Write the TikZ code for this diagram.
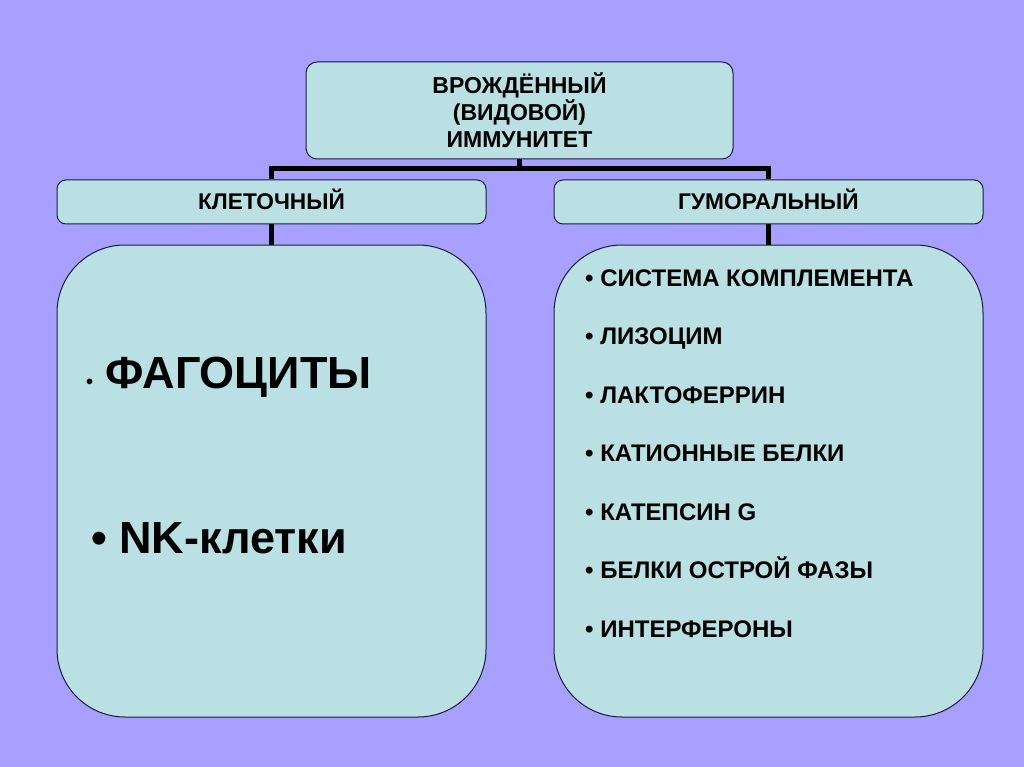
\documentclass[tikz,border=0pt]{standalone}
\usepackage{fontspec}
\setmainfont{Liberation Sans}
\definecolor{bg}{RGB}{168,160,255}
\definecolor{boxfill}{RGB}{186,224,228}
\definecolor{boxline}{RGB}{25,25,60}
\tikzset{
  box/.style={draw=boxline, fill=boxfill, line width=1pt, inner sep=0pt},
  head/.style={box, rounded corners=11pt, minimum width=427pt, minimum height=97pt,
    align=center, font=\bfseries\fontsize{23}{27}\selectfont},
  branch/.style={box, rounded corners=9pt, minimum width=429pt, minimum height=44pt,
    text height=16pt, text depth=0pt, font=\bfseries\fontsize{22.7}{24}\selectfont},
  big/.style={box, rounded corners=68pt, minimum width=429pt, minimum height=472pt},
  conn/.style={line width=5.5pt, draw=black, line join=miter},
  item/.style={anchor=base west, inner sep=0pt, font=\bfseries\fontsize{24}{26}\selectfont},
  bigitem/.style={anchor=base west, inner sep=0pt, font=\bfseries\fontsize{45}{50}\selectfont},
}
\begin{document}
\begin{tikzpicture}[x=1pt,y=-1pt]
\fill[bg] (0,0) rectangle (1024,767);
\useasboundingbox (0,0) rectangle (1024,767);

\node[head] (top) at (519.5,110.5) {ВРОЖДЁННЫЙ\\(ВИДОВОЙ)\\ИММУНИТЕТ};
\node[branch] (kl) at (271.5,202) {КЛЕТОЧНЫЙ};
\node[branch] (gum) at (768.5,202) {ГУМОРАЛЬНЫЙ};
\node[big] (cell) at (271.5,481) {};
\node[big] (hum) at (768.5,481) {};

\coordinate (j) at (519.5,168.5);
\draw[conn] (top.south) -- (j);
\draw[conn] (kl.north) |- (j);
\draw[conn] (gum.north) |- (j);
\draw[conn] (kl.south) -- (cell.north);
\draw[conn] (gum.south) -- (hum.north);

\node[bigitem] (fag) at (86,388) {{\fontsize{20}{20}\selectfont •}\hspace{12pt}ФАГОЦИТЫ};
\node[bigitem] (nk) at (91,553) {• NK-клетки};

\node[item] (h1) at (585,286) {• СИСТЕМА КОМПЛЕМЕНТА};
\node[item] (h2) at (585,344.5) {• ЛИЗОЦИМ};
\node[item] (h3) at (585,403) {• ЛАКТОФЕРРИН};
\node[item] (h4) at (585,461.5) {• КАТИОННЫЕ БЕЛКИ};
\node[item] (h5) at (585,520) {• КАТЕПСИН G};
\node[item] (h6) at (585,578.5) {• БЕЛКИ ОСТРОЙ ФАЗЫ};
\node[item] (h7) at (585,637) {• ИНТЕРФЕРОНЫ};
\end{tikzpicture}
\end{document}
